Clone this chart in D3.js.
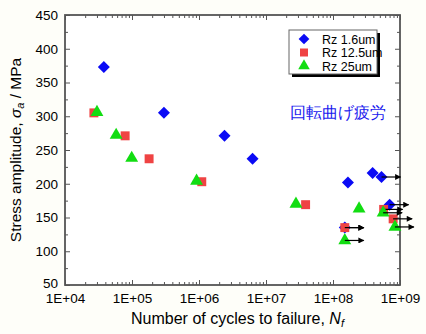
<!DOCTYPE html>
<html>
<head>
<meta charset="utf-8">
<script src="https://cdn.jsdelivr.net/npm/d3@7"></script>
<style>
  html, body { margin: 0; padding: 0; background: #fefef9; }
  svg { display: block; }
  text { font-family: "Liberation Sans", Arial, sans-serif; fill: #000; }
</style>
</head>
<body>
<svg id="chart"></svg>
<script>
// Data
const xTicks = [1e4, 1e5, 1e6, 1e7, 1e8, 1e9];
const yTicks = [50, 100, 150, 200, 250, 300, 350, 400, 450];

// Rz 1.6um
const rz16Cycles = [3.8e4, 3.0e5, 2.4e6, 6.3e6, 1.67e8, 3.9e8, 5.3e8, 7.0e8, 1.5e8];
const rz16Stress = [373, 305, 271, 237, 202, 216, 210, 169, 135];
const rz16Runout = [false, false, false, false, false, false, true, true, true];

// Rz 12.5um
const rz125Cycles = [2.7e4, 7.9e4, 1.8e5, 1.1e6, 3.9e7, 1.5e8, 5.7e8, 7.9e8];
const rz125Stress = [305, 271, 237, 203, 169, 135, 162, 148];
const rz125Runout = [false, false, false, false, false, true, true, true];

// Rz 25um
const rz25Cycles = [3.0e4, 5.8e4, 9.9e4, 9.2e5, 2.8e7, 2.45e8, 1.5e8, 5.6e8, 8.4e8];
const rz25Stress = [306, 272, 238, 204, 170, 163, 116, 157, 136];
const rz25Runout = [false, false, false, false, false, false, true, true, true];

const seriesNames = ["Rz 1.6um", "Rz 12.5um", "Rz 25um"];
const seriesColors = ["#0a0af5", "#ef4343", "#12dd12"];
const seriesShapes = [d3.symbolSquare, d3.symbolSquare, d3.symbolTriangle];
const seriesRotate = [45, 0, 0];
const seriesSizes = [72, 80, 72];

const W = 426, H = 334;
const margin = {top: 15, right: 26, bottom: 49, left: 65};

const svg = d3.select("#chart").attr("width", W).attr("height", H);

const x = d3.scaleLog().domain([1e4, 1e9]).range([margin.left, W - margin.right]);
const y = d3.scaleLinear().domain([50, 450]).range([H - margin.bottom, margin.top]);

svg.append("rect")
  .attr("x", margin.left).attr("y", margin.top)
  .attr("width", x.range()[1] - x.range()[0])
  .attr("height", y.range()[0] - y.range()[1])
  .attr("fill", "#fff");

// minor ticks for the log axis
const minorX = [];
for (let e = 4; e < 9; e++) for (let m = 2; m <= 9; m++) minorX.push(m * Math.pow(10, e));
const minorY = d3.range(75, 450, 50);

function styleAxis(g) {
  g.select(".domain").remove();
  g.selectAll("line").attr("stroke", "#555").attr("stroke-width", 1);
}

// bottom axis with labels
svg.append("g")
  .attr("transform", "translate(0," + y.range()[0] + ")")
  .call(d3.axisBottom(x).tickValues(xTicks).tickSize(-5).tickPadding(8)
    .tickFormat(d => "1E+0" + Math.round(Math.log10(d))))
  .call(styleAxis)
  .call(g => g.selectAll("text").attr("font-size", 13.5));
svg.append("g")
  .attr("transform", "translate(0," + y.range()[0] + ")")
  .call(d3.axisBottom(x).tickValues(minorX).tickSize(-3).tickFormat(""))
  .call(styleAxis);

// top axis
svg.append("g")
  .attr("transform", "translate(0," + y.range()[1] + ")")
  .call(d3.axisTop(x).tickValues(xTicks).tickSize(-5).tickFormat(""))
  .call(styleAxis);
svg.append("g")
  .attr("transform", "translate(0," + y.range()[1] + ")")
  .call(d3.axisTop(x).tickValues(minorX).tickSize(-3).tickFormat(""))
  .call(styleAxis);

// left axis
svg.append("g")
  .attr("transform", "translate(" + x.range()[0] + ",0)")
  .call(d3.axisLeft(y).tickValues(yTicks).tickSize(-5).tickPadding(7))
  .call(styleAxis)
  .call(g => g.selectAll("text").attr("font-size", 13.5))
  .call(g => g.selectAll(".tick").filter(d => d === 50).select("text").attr("dy", "0.2em"));
svg.append("g")
  .attr("transform", "translate(" + x.range()[0] + ",0)")
  .call(d3.axisLeft(y).tickValues(minorY).tickSize(-3).tickFormat(""))
  .call(styleAxis);

// right axis
svg.append("g")
  .attr("transform", "translate(" + x.range()[1] + ",0)")
  .call(d3.axisRight(y).tickValues(yTicks).tickSize(-5).tickFormat(""))
  .call(styleAxis);
svg.append("g")
  .attr("transform", "translate(" + x.range()[1] + ",0)")
  .call(d3.axisRight(y).tickValues(minorY).tickSize(-3).tickFormat(""))
  .call(styleAxis);

// frame
svg.append("rect")
  .attr("x", x.range()[0]).attr("y", y.range()[1])
  .attr("width", x.range()[1] - x.range()[0])
  .attr("height", y.range()[0] - y.range()[1])
  .attr("fill", "none").attr("stroke", "#555").attr("stroke-width", 1.8);

// axis titles
svg.append("text")
  .attr("x", (x.range()[0] + x.range()[1]) / 2 + 5).attr("y", 324)
  .attr("text-anchor", "middle").attr("font-size", 16)
  .text("Number of cycles to failure, ")
  .append("tspan").attr("font-style", "italic").text("N")
  .append("tspan").attr("font-size", 11).attr("dy", 3).text("f");

const yt = svg.append("text")
  .attr("transform", "translate(21," + ((y.range()[0] + y.range()[1]) / 2) + ") rotate(-90)")
  .attr("text-anchor", "middle").attr("font-size", 15.5);
yt.append("tspan").text("Stress amplitude, ");
yt.append("tspan").attr("font-style", "italic").text("σ");
yt.append("tspan").attr("font-style", "italic").attr("font-size", 11).attr("dy", 3).text("a");
yt.append("tspan").attr("dy", -3).text(" / MPa");

// arrowhead marker
svg.append("defs").append("marker")
  .attr("id", "arrow").attr("viewBox", "0 0 10 10")
  .attr("refX", 9).attr("refY", 5)
  .attr("markerWidth", 8).attr("markerHeight", 6)
  .attr("markerUnits", "userSpaceOnUse")
  .attr("orient", "auto")
  .append("path").attr("d", "M0,0 L10,5 L0,10 Z").attr("fill", "#000");

const series = [
  {cycles: rz16Cycles, stress: rz16Stress, runout: rz16Runout},
  {cycles: rz125Cycles, stress: rz125Stress, runout: rz125Runout},
  {cycles: rz25Cycles, stress: rz25Stress, runout: rz25Runout}
];

series.forEach((s, i) => {
  const pts = s.cycles.map((c, j) => ({c: c, v: s.stress[j], r: s.runout[j]}));
  const g = svg.append("g");
  g.selectAll("path.pt").data(pts).join("path")
    .attr("class", "pt")
    .attr("transform", d => "translate(" + x(d.c) + "," + y(d.v) + ") rotate(" + seriesRotate[i] + ")")
    .attr("d", d3.symbol().type(seriesShapes[i]).size(seriesSizes[i]))
    .attr("fill", seriesColors[i]);
  g.selectAll("line.run").data(pts.filter(d => d.r)).join("line")
    .attr("class", "run")
    .attr("x1", d => x(d.c)).attr("x2", d => x(d.c) + 19)
    .attr("y1", d => y(d.v)).attr("y2", d => y(d.v))
    .attr("stroke", "#000").attr("stroke-width", 1.2)
    .attr("marker-end", "url(#arrow)");
});

// legend
const lg = svg.append("g").attr("transform", "translate(289,30)");
lg.append("rect").attr("x", 3).attr("y", 3).attr("width", 88).attr("height", 44).attr("fill", "#000");
lg.append("rect").attr("width", 88).attr("height", 44).attr("fill", "#fff").attr("stroke", "#666").attr("stroke-width", 1);
seriesNames.forEach((n, i) => {
  const yy = 9 + i * 13.5;
  lg.append("path")
    .attr("transform", "translate(15," + yy + ") rotate(" + seriesRotate[i] + ")")
    .attr("d", d3.symbol().type(seriesShapes[i]).size(seriesSizes[i] * 0.8))
    .attr("fill", seriesColors[i]);
  lg.append("text").attr("x", 33).attr("y", yy + 4.5).attr("font-size", 12.5).text(n);
});

svg.append("text")
  .attr("x", 290).attr("y", 118)
  .attr("font-family", "'Noto Sans CJK JP', sans-serif")
  .attr("font-size", 15.5)
  .style("fill", "#1a1aee")
  .text("回転曲げ疲労");
</script>
</body>
</html>
